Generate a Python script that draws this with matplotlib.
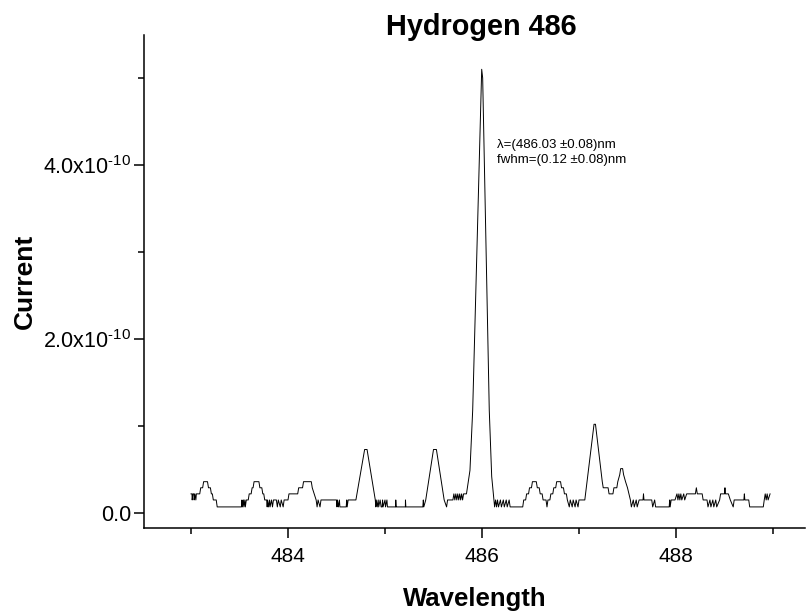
import matplotlib
matplotlib.use("Agg")
import numpy as np
import matplotlib.pyplot as plt
from matplotlib.ticker import FixedLocator, FuncFormatter

plt.rcParams["font.family"] = ["Liberation Sans", "DejaVu Sans"]
plt.rcParams["mathtext.fontset"] = "custom"
plt.rcParams["mathtext.rm"] = "Liberation Sans"
plt.rcParams["mathtext.it"] = "Liberation Sans:italic"
plt.rcParams["mathtext.bf"] = "Liberation Sans:bold"

# Spectrum (wavelength in nm, current in 1e-10 A)
wavelength = [
    483.00, 483.01, 483.012, 483.02, 483.03, 483.032, 483.04, 483.05, 483.055, 483.09,
    483.10, 483.12, 483.13, 483.17, 483.18, 483.20, 483.21, 483.22, 483.23, 483.26,
    483.27, 483.52, 483.525, 483.53, 483.54, 483.545, 483.555, 483.56, 483.57, 483.59,
    483.60, 483.62, 483.63, 483.64, 483.65, 483.70, 483.71, 483.73, 483.74, 483.75,
    483.76, 483.78, 483.785, 483.79, 483.80, 483.81, 483.815, 483.83, 483.84, 483.85,
    483.88, 483.89, 483.90, 483.92, 483.93, 483.95, 483.96, 484.00, 484.01, 484.10,
    484.11, 484.15, 484.16, 484.24, 484.25, 484.27, 484.29, 484.30, 484.31, 484.33,
    484.34, 484.50, 484.505, 484.51, 484.52, 484.53, 484.535, 484.60, 484.605, 484.61,
    484.62, 484.70, 484.79, 484.815, 484.90, 484.905, 484.91, 484.92, 484.93, 484.935,
    484.95, 484.96, 484.97, 484.975, 484.98, 485.00, 485.005, 485.02, 485.025, 485.045,
    485.05, 485.11, 485.111, 485.115, 485.21, 485.211, 485.215, 485.39, 485.395, 485.40,
    485.42, 485.50, 485.53, 485.61, 485.635, 485.645, 485.70, 485.71, 485.72, 485.73,
    485.74, 485.75, 485.76, 485.77, 485.78, 485.79, 485.80, 485.81, 485.84, 485.876,
    485.904, 485.997, 486.007, 486.075, 486.10, 486.124, 486.13, 486.14, 486.15, 486.16,
    486.17, 486.19, 486.20, 486.22, 486.23, 486.25, 486.26, 486.28, 486.29, 486.42,
    486.43, 486.45, 486.46, 486.48, 486.49, 486.51, 486.52, 486.56, 486.57, 486.59,
    486.60, 486.62, 486.63, 486.66, 486.67, 486.68, 486.70, 486.71, 486.73, 486.74,
    486.76, 486.77, 486.81, 486.82, 486.84, 486.85, 486.87, 486.88, 486.90, 486.91,
    486.93, 486.94, 486.96, 486.97, 486.99, 487.00, 487.03, 487.06, 487.155, 487.17,
    487.24, 487.25, 487.30, 487.31, 487.35, 487.36, 487.39, 487.40, 487.42, 487.43,
    487.45, 487.46, 487.48, 487.50, 487.53, 487.54, 487.56, 487.57, 487.59, 487.60,
    487.62, 487.63, 487.66, 487.665, 487.67, 487.75, 487.76, 487.78, 487.79, 487.80,
    487.84, 487.93, 487.935, 487.94, 487.95, 487.99, 488.01, 488.02, 488.03, 488.04,
    488.05, 488.06, 488.08, 488.09, 488.11, 488.20, 488.21, 488.22, 488.27, 488.28,
    488.32, 488.33, 488.35, 488.36, 488.38, 488.39, 488.41, 488.42, 488.45, 488.46,
    488.50, 488.505, 488.51, 488.54, 488.56, 488.59, 488.60, 488.62, 488.63, 488.70,
    488.705, 488.71, 488.75, 488.76, 488.90, 488.91, 488.92, 488.93, 488.94, 488.95,
    488.97,
]
current = [
    0.22, 0.22, 0.15, 0.22, 0.22, 0.15, 0.22, 0.15, 0.22, 0.22,
    0.29, 0.29, 0.36, 0.36, 0.29, 0.29, 0.22, 0.22, 0.15, 0.15,
    0.07, 0.07, 0.15, 0.07, 0.15, 0.07, 0.15, 0.07, 0.15, 0.15,
    0.22, 0.22, 0.29, 0.29, 0.36, 0.36, 0.29, 0.29, 0.22, 0.22,
    0.15, 0.15, 0.07, 0.15, 0.07, 0.15, 0.07, 0.15, 0.07, 0.15,
    0.15, 0.07, 0.15, 0.07, 0.15, 0.07, 0.15, 0.15, 0.22, 0.22,
    0.29, 0.29, 0.36, 0.36, 0.29, 0.22, 0.15, 0.07, 0.15, 0.07,
    0.15, 0.15, 0.07, 0.15, 0.07, 0.15, 0.07, 0.07, 0.15, 0.07,
    0.15, 0.15, 0.73, 0.73, 0.15, 0.07, 0.15, 0.07, 0.15, 0.07,
    0.15, 0.07, 0.07, 0.15, 0.07, 0.15, 0.07, 0.15, 0.07, 0.07,
    0.07, 0.07, 0.15, 0.07, 0.07, 0.15, 0.07, 0.07, 0.15, 0.07,
    0.15, 0.73, 0.73, 0.15, 0.07, 0.15, 0.15, 0.22, 0.15, 0.22,
    0.15, 0.22, 0.15, 0.22, 0.15, 0.22, 0.15, 0.22, 0.22, 0.49,
    1.18, 5.10, 5.00, 1.18, 0.42, 0.15, 0.07, 0.15, 0.07, 0.15,
    0.07, 0.15, 0.07, 0.15, 0.07, 0.15, 0.07, 0.15, 0.07, 0.07,
    0.15, 0.15, 0.22, 0.22, 0.29, 0.29, 0.36, 0.36, 0.29, 0.29,
    0.22, 0.22, 0.15, 0.15, 0.07, 0.15, 0.15, 0.22, 0.22, 0.29,
    0.29, 0.36, 0.36, 0.29, 0.29, 0.22, 0.22, 0.15, 0.07, 0.15,
    0.07, 0.15, 0.07, 0.15, 0.07, 0.15, 0.15, 0.15, 1.02, 1.02,
    0.36, 0.29, 0.29, 0.22, 0.22, 0.29, 0.29, 0.36, 0.44, 0.51,
    0.51, 0.44, 0.36, 0.29, 0.15, 0.07, 0.15, 0.07, 0.15, 0.07,
    0.15, 0.15, 0.15, 0.22, 0.15, 0.15, 0.07, 0.15, 0.07, 0.07,
    0.07, 0.07, 0.15, 0.07, 0.15, 0.15, 0.22, 0.15, 0.22, 0.15,
    0.22, 0.15, 0.22, 0.15, 0.22, 0.22, 0.29, 0.22, 0.22, 0.15,
    0.15, 0.07, 0.15, 0.07, 0.15, 0.07, 0.15, 0.07, 0.15, 0.22,
    0.22, 0.29, 0.22, 0.22, 0.15, 0.07, 0.15, 0.15, 0.15, 0.15,
    0.22, 0.15, 0.15, 0.07, 0.07, 0.15, 0.22, 0.15, 0.22, 0.15,
    0.22,
]

x_ticks = [484, 486, 488]
x_minor = [483, 485, 487, 489]
y_ticks = [0.0, 2.0e-10, 4.0e-10]
y_minor = [1.0e-10, 3.0e-10, 5.0e-10]
fit_text = "\u03bb=(486.03 \u00b10.08)nm\nfwhm=(0.12 \u00b10.08)nm"

fig = plt.figure(figsize=(8.07, 6.12), dpi=100)
ax = fig.add_axes([0.1784, 0.1373, 0.8191, 0.8055])

ax.plot(wavelength, np.array(current) * 1e-10, color="black", linewidth=0.7)

ax.set_xlim(482.515, 489.33)
ax.set_ylim(-0.172e-10, 5.494e-10)

ax.spines["top"].set_visible(False)
ax.spines["right"].set_visible(False)
for s in ["left", "bottom"]:
    ax.spines[s].set_linewidth(1.1)

ax.xaxis.set_major_locator(FixedLocator(x_ticks))
ax.xaxis.set_minor_locator(FixedLocator(x_minor))
ax.yaxis.set_major_locator(FixedLocator(y_ticks))
ax.yaxis.set_minor_locator(FixedLocator(y_minor))


def y_fmt(v, pos):
    if v == 0:
        return "0.0"
    m = v / 1e-10
    return r"$\mathregular{%.1fx10^{\text{-}10}}$" % m


ax.yaxis.set_major_formatter(FuncFormatter(y_fmt))
ax.xaxis.set_major_formatter(FuncFormatter(lambda v, p: "%d" % v))

ax.tick_params(which="major", direction="out", length=7, width=1.1, labelsize=15.5, pad=2)
ax.tick_params(which="minor", direction="out", length=4, width=1.1)
ax.tick_params(axis="x", which="major", labelsize=15, pad=7)

ax.set_xlabel("Wavelength", fontsize=18.5, fontweight="bold", labelpad=15)
ax.set_ylabel("Current", fontsize=19, fontweight="bold", labelpad=5)
fig.text(481 / 807, 1 - 27 / 612, "Hydrogen 486", fontsize=20.8, fontweight="bold",
         ha="center", va="center")

ax.text(486.155, 4.30e-10, fit_text, fontsize=9.5, va="top", ha="left", linespacing=1.3)

fig.savefig("out.png", dpi=100)
